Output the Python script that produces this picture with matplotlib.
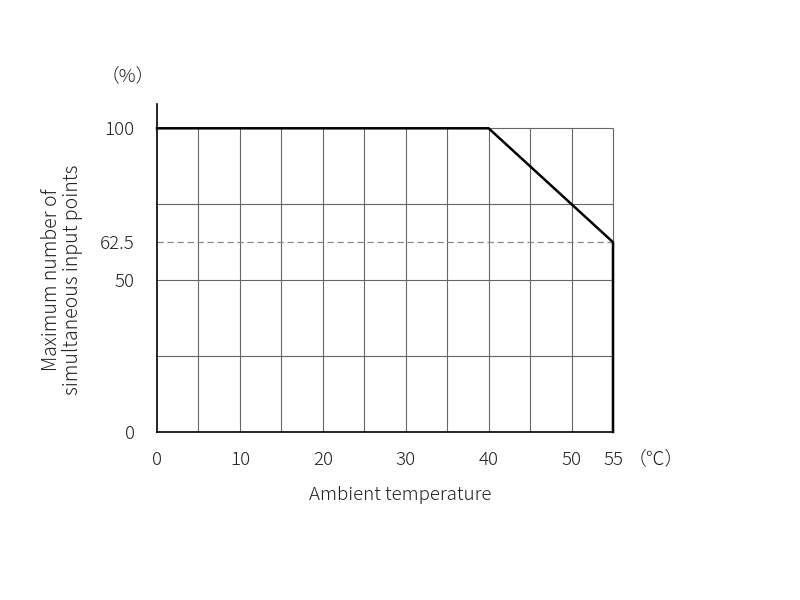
import matplotlib.pyplot as plt

plt.rcParams['font.family'] = ['Noto Sans CJK JP', 'DejaVu Sans']
plt.rcParams['font.weight'] = 'light'

# curva de reduccion
temp = [0, 40, 55, 55]
puntos = [100, 100, 62.5, 0]

xticks = [0, 10, 20, 30, 40, 50, 55]
yticks = [0, 50, 62.5, 100]
xgrid = [5, 10, 15, 20, 25, 30, 35, 40, 45, 50, 55]
ygrid = [25, 50, 75, 100]

fig = plt.figure(figsize=(8, 6), dpi=100)
ax = fig.add_axes([157/800, 1 - 432/600, (613-157)/800, (432-104)/600])

ax.set_xlim(0, 55)
ax.set_ylim(0, 108)

# rejilla
ax.vlines(xgrid, 0, 100, color='#666666', lw=0.8, zorder=1, clip_on=False)
ax.hlines(ygrid, 0, 55, color='#666666', lw=0.8, zorder=1, clip_on=False)
ax.hlines(62.5, 0, 55, color='#888888', lw=0.9, linestyles=(0, (5, 3)), zorder=1)

ax.plot(temp, puntos, color='black', lw=1.8, zorder=3, solid_joinstyle='miter', clip_on=False)

for s in ['top', 'right']:
    ax.spines[s].set_visible(False)
ax.spines['left'].set_linewidth(1.2)
ax.spines['bottom'].set_linewidth(1.2)

ax.set_xticks(xticks)
ax.set_xticklabels([str(t) for t in xticks])
ax.set_yticks(yticks)
ax.set_yticklabels(['0', '50', '62.5', '100'])
ax.tick_params(length=0, labelsize=13.5, colors='#222222', pad=14)
ax.tick_params(axis='y', pad=16)

fig.text(128/800, 1 - 76/600, '（%）', ha='center', va='center', fontsize=13.5, color='#222222')
fig.text(656/800, 1 - 459/600, '（℃）', ha='center', va='center', fontsize=13.5, color='#222222')
fig.text(400/800, 1 - 495/600, 'Ambient temperature', ha='center', va='center', fontsize=13.5, color='#222222')
fig.text(62/800, 1 - 280/600, 'Maximum number of\nsimultaneous input points', ha='center', va='center',
         rotation=90, fontsize=14, color='#222222', linespacing=1.0)

fig.savefig('out.png', dpi=100)
